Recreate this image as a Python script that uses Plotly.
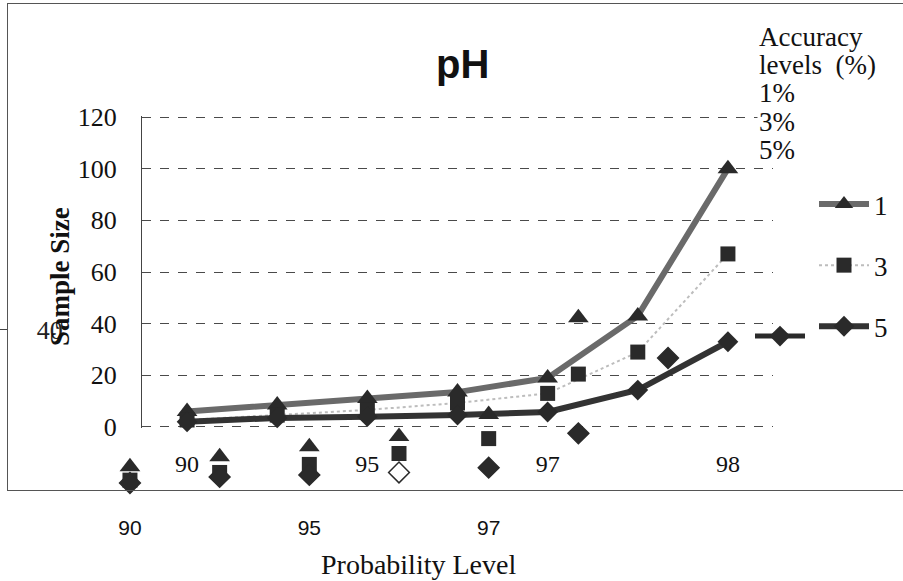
import plotly.graph_objects as go

# ---------------- data ----------------
categories = ["90", "92", "95", "96", "97", "97.5", "98"]   # probability levels
acc1 = [6, 8.5, 11, 13.5, 19, 43, 100]      # 1 % accuracy
acc3 = [2.7, 4.6, 6.6, 9.3, 13, 29, 67]     # 3 % accuracy
acc5 = [2, 3.5, 4, 4.6, 5.8, 14.3, 33]      # 5 % accuracy
y_ticks = [0, 20, 40, 60, 80, 100, 120]
x_tick_labels = ["90", "95", "97", "98"]
ghost_x_tick_labels = ["90", "95", "97"]
ghost_y_ticks = [40]
ghost_count_1 = 6
ghost_count_3 = 6
ghost_count_5 = 7
ghost_diamond_open = [False, False, False, True, False, False, False]

W, H = 903, 581
DARK = "#2a2a2a"
SERIF = "Liberation Serif"
SANS = "Liberation Sans"


def px_x(p):
    return p / W


def px_y(p):
    return 1 - p / H


fig = go.Figure()

# ---- ghost (mis-registered) copy of the markers, on a second set of axes ----
fig.add_trace(go.Scatter(
    x=categories[:ghost_count_1], y=acc1[:ghost_count_1], mode="markers",
    xaxis="x2", yaxis="y2", showlegend=False, cliponaxis=False,
    marker=dict(symbol="triangle-up", size=18, color=DARK)))
fig.add_trace(go.Scatter(
    x=categories[:ghost_count_3], y=acc3[:ghost_count_3], mode="markers",
    xaxis="x2", yaxis="y2", showlegend=False, cliponaxis=False,
    marker=dict(symbol="square", size=15, color=DARK)))
fig.add_trace(go.Scatter(
    x=categories[:ghost_count_5], y=acc5[:ghost_count_5], mode="markers",
    xaxis="x2", yaxis="y2", showlegend=False, cliponaxis=False,
    marker=dict(symbol="diamond", size=16,
                color=["white" if o else DARK for o in ghost_diamond_open],
                line=dict(color=DARK, width=1.5))))
# ghost legend entry (legend only)
fig.add_trace(go.Scatter(
    x=[None], y=[None], mode="lines+markers", name=" ",
    xaxis="x2", yaxis="y2", legend="legend2",
    line=dict(color=DARK, width=5),
    marker=dict(symbol="diamond", size=16, color=DARK)))

# ---- main chart ----
fig.add_trace(go.Scatter(
    x=categories, y=acc1, mode="lines+markers", name="1", legendgroup="a1",
    line=dict(color="#6a6a6a", width=6), cliponaxis=False,
    marker=dict(symbol="triangle-up", size=18, color=DARK)))
fig.add_trace(go.Scatter(
    x=categories, y=acc3, mode="lines+markers", name="3", legendgroup="a3",
    line=dict(color="#bdbdbd", width=2, dash="dot"), cliponaxis=False,
    marker=dict(symbol="square", size=15, color=DARK)))
fig.add_trace(go.Scatter(
    x=categories, y=acc5, mode="lines+markers", name="5", legendgroup="a5",
    line=dict(color="#333333", width=6), cliponaxis=False,
    marker=dict(symbol="diamond", size=16, color=DARK)))

no_auto = dict(automargin=False)
fig.update_layout(
    width=W, height=H, autosize=False,
    margin=dict(l=0, r=0, t=0, b=0, pad=0),
    paper_bgcolor="white", plot_bgcolor="rgba(0,0,0,0)",
    font=dict(family=SERIF, color="#111"),
    xaxis=dict(
        domain=[px_x(142), px_x(773)], anchor="y", type="category",
        categoryorder="array", categoryarray=categories,
        range=[-0.5, len(categories) - 0.5],
        tickmode="array", tickvals=x_tick_labels, ticktext=x_tick_labels,
        ticks="", ticklabelstandoff=19, showgrid=False, showline=False,
        zeroline=False, tickfont=dict(family=SERIF, size=24, color="#111"),
        **no_auto),
    yaxis=dict(
        domain=[px_y(428), px_y(116)], anchor="x", range=[-0.4, 120.4],
        tickmode="array", tickvals=y_ticks, ticks="", ticklabelstandoff=19,
        showgrid=True, gridcolor="#4a4a4a", gridwidth=1, griddash="dash",
        showline=True, linecolor="#444", linewidth=1, zeroline=False,
        tickfont=dict(family=SERIF, size=26, color="#111"), **no_auto),
    xaxis2=dict(
        domain=[px_x(8), 1], anchor="y2", type="category",
        categoryorder="array", categoryarray=categories,
        range=[-1.36, 8.62],
        tickmode="array", tickvals=ghost_x_tick_labels,
        ticktext=ghost_x_tick_labels, ticks="", ticklabelstandoff=19,
        showgrid=False, showline=True, mirror=True, linecolor="#555",
        linewidth=1, zeroline=False,
        tickfont=dict(family=SANS, size=21, color="#111"), **no_auto),
    yaxis2=dict(
        domain=[px_y(490), px_y(4)], anchor="x2", range=[0.25, 120.8],
        tickmode="array", tickvals=ghost_y_ticks, ticks="outside", ticklen=8,
        tickcolor="#444", ticklabelposition="inside", ticklabelstandoff=31,
        showgrid=False, showline=True, linecolor="#555", linewidth=1,
        zeroline=False, tickfont=dict(family=SERIF, size=26, color="#222"),
        **no_auto),
    legend=dict(
        x=px_x(814), y=px_y(180), xanchor="left", yanchor="top",
        bgcolor="rgba(0,0,0,0)", tracegroupgap=23, itemwidth=50,
        font=dict(family=SERIF, size=27, color="#111")),
    legend2=dict(
        x=px_x(750), y=px_y(312), xanchor="left", yanchor="top",
        bgcolor="rgba(0,0,0,0)", itemwidth=50,
        font=dict(family=SERIF, size=27, color="#111")),
)

annos = [
    dict(text="<b>pH</b>", x=px_x(462), y=px_y(64),
         font=dict(family=SANS, size=40, color="#111"), xanchor="center"),
    dict(text="Accuracy", x=px_x(757), y=px_y(37),
         font=dict(family=SERIF, size=27), xanchor="left"),
    dict(text="levels  (%)", x=px_x(757), y=px_y(65),
         font=dict(family=SERIF, size=27), xanchor="left"),
    dict(text="1%", x=px_x(757), y=px_y(93),
         font=dict(family=SERIF, size=27), xanchor="left"),
    dict(text="3%", x=px_x(757), y=px_y(122),
         font=dict(family=SERIF, size=27), xanchor="left", bgcolor="white"),
    dict(text="5%", x=px_x(757), y=px_y(150),
         font=dict(family=SERIF, size=27), xanchor="left", bgcolor="white"),
    dict(text="<b>Sample Size</b>", x=px_x(60), y=px_y(277), textangle=-90,
         font=dict(family=SERIF, size=27), xanchor="center", yanchor="middle"),
    dict(text="Probability Level", x=px_x(418), y=px_y(564),
         font=dict(family=SERIF, size=28), xanchor="center"),
]
for a in annos:
    a.update(xref="paper", yref="paper", showarrow=False)
    a.setdefault("yanchor", "middle")
    fig.add_annotation(**a)

fig.write_html(
    "out.html",
    config={"displayModeBar": False},
    post_script="document.body.style.margin='0px';",
)
